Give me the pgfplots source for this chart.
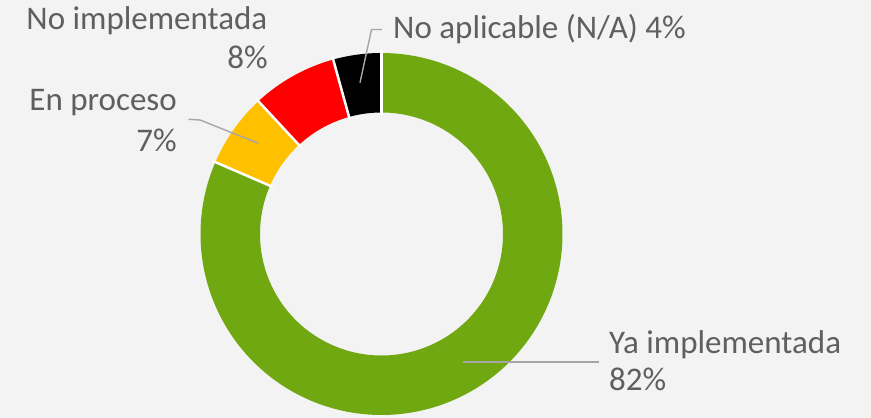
\documentclass[border=0pt]{standalone}
\usepackage{pgfplots}
\pgfplotsset{compat=1.18}
\usepackage{pgfplotstable}
\usepackage{fontspec}
\setmainfont{Carlito}
\definecolor{bg}{HTML}{F3F3F3}
\definecolor{cgreen}{HTML}{70A812}
\definecolor{cyellow}{HTML}{FFC000}
\definecolor{cred}{HTML}{FF0000}
\definecolor{cblack}{HTML}{000000}
\definecolor{txt}{HTML}{5F5F5F}
\definecolor{lead}{HTML}{A6A6A6}

\pgfplotstableread{
cat value
Ya 81.5
Proceso 6.6
NoImpl 7.6
NA 4.3
}\donutdata
\pgfplotstablegetelem{0}{value}\of\donutdata \edef\vA{\pgfplotsretval}
\pgfplotstablegetelem{1}{value}\of\donutdata \edef\vB{\pgfplotsretval}
\pgfplotstablegetelem{2}{value}\of\donutdata \edef\vC{\pgfplotsretval}
\pgfplotstablegetelem{3}{value}\of\donutdata \edef\vD{\pgfplotsretval}
\pgfmathsetmacro\total{\vA+\vB+\vC+\vD}
\pgfmathsetmacro\k{360/\total}
\pgfmathsetmacro\aA{90}
\pgfmathsetmacro\aB{\aA-\k*\vA}
\pgfmathsetmacro\aC{\aB-\k*\vB}
\pgfmathsetmacro\aD{\aC-\k*\vC}
\pgfmathsetmacro\aE{\aD-\k*\vD}
\def\cx{381.5}
\def\cy{184}
\def\rout{181}
\def\rin{121.5}
\pgfmathsetmacro\rmid{(\rout+\rin)/2}
\pgfmathsetmacro\wid{\rout-\rin}
\pgfmathsetmacro\sA{\rin-3}
\pgfmathsetmacro\sB{\rout+3}

\begin{document}
\begin{tikzpicture}
\begin{axis}[
  x=1pt, y=1pt,
  xmin=0, xmax=871, ymin=0, ymax=418,
  hide axis, clip=false,
  every axis plot/.append style={no marks},
]
\fill[bg] (axis cs:0,0) rectangle (axis cs:871,418);
% donut segments
\addplot[draw=cgreen, line width=\wid pt, domain=\aB:\aA, samples=240, variable=\t] ({\cx+\rmid*cos(\t)},{\cy+\rmid*sin(\t)});
\addplot[draw=cyellow, line width=\wid pt, domain=\aC:\aB, samples=40, variable=\t] ({\cx+\rmid*cos(\t)},{\cy+\rmid*sin(\t)});
\addplot[draw=cred, line width=\wid pt, domain=\aD:\aC, samples=40, variable=\t] ({\cx+\rmid*cos(\t)},{\cy+\rmid*sin(\t)});
\addplot[draw=cblack, line width=\wid pt, domain=\aE:\aD, samples=30, variable=\t] ({\cx+\rmid*cos(\t)},{\cy+\rmid*sin(\t)});
% white separators
\addplot[draw=white, line width=2.5pt, domain=\sA:\sB, samples=2, variable=\s] ({\cx+\s*cos(\aA)},{\cy+\s*sin(\aA)});
\addplot[draw=white, line width=2.5pt, domain=\sA:\sB, samples=2, variable=\s] ({\cx+\s*cos(\aB)},{\cy+\s*sin(\aB)});
\addplot[draw=white, line width=2.5pt, domain=\sA:\sB, samples=2, variable=\s] ({\cx+\s*cos(\aC)},{\cy+\s*sin(\aC)});
\addplot[draw=white, line width=2.5pt, domain=\sA:\sB, samples=2, variable=\s] ({\cx+\s*cos(\aD)},{\cy+\s*sin(\aD)});
% leader lines
\addplot[draw=lead, line width=1.4pt] coordinates {(360,335.3) (371.5,388.5) (382,388.5)};
\addplot[draw=lead, line width=1.4pt] coordinates {(188.5,298.7) (200,298) (258.3,274.7)};
\addplot[draw=lead, line width=1.4pt] coordinates {(463.3,56) (599.3,56)};
% labels
\begin{scope}[every node/.style={text=txt, font=\fontsize{33}{40}\selectfont, inner sep=0pt}]
\node[anchor=base east] at (axis cs:267.5,388.4) {No implementada};
\node[anchor=base east] at (axis cs:268,349.5) {8\%};
\node[anchor=base east] at (axis cs:177,307.3) {En proceso};
\node[anchor=base east] at (axis cs:177,266.3) {7\%};
\node[anchor=base west] at (axis cs:393,379.7) {No aplicable (N/A) 4\%};
\node[anchor=base west] at (axis cs:609,64.7) {Ya implementada};
\node[anchor=base west] at (axis cs:609,27.3) {82\%};
\end{scope}
\end{axis}
\end{tikzpicture}
\end{document}
